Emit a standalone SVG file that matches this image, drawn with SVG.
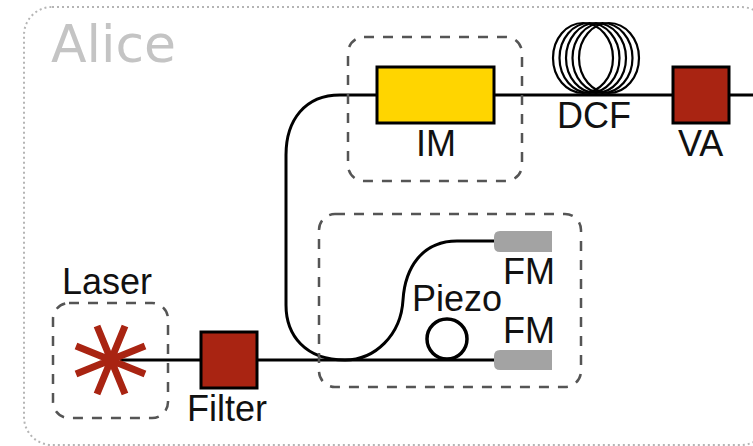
<svg xmlns="http://www.w3.org/2000/svg" width="753" height="446" viewBox="0 0 753 446">
<style>
text{font-family:"Liberation Sans",Arial,sans-serif;font-size:36px;fill:#111}
.fiber{fill:none;stroke:#000;stroke-width:3}
.box{fill:none;stroke:#555;stroke-width:2.5;stroke-dasharray:10 9}
.red{fill:#a92412;stroke:#000;stroke-width:3}
.fm{fill:#a3a3a3}
.coil{fill:none;stroke:#000;stroke-width:2.2}
.ray{stroke:#a92412;stroke-width:7}
</style>
<rect width="753" height="446" fill="#fff"/>
<g id="alice">
<rect x="24" y="7" width="745" height="438" rx="28" fill="none" stroke="#b5b5b5" stroke-width="2" stroke-dasharray="2 3"/>
<text x="51" y="62" style="font-family:'DejaVu Sans',sans-serif;font-size:52px;fill:#c4c4c4">Alice</text>
</g>
<g id="connectors">
<path class="fiber" d="M120 360H495"/>
<path class="fiber" d="M495 241H457C422 241 405 268 403 300C401 335 375 360 345 360C305 360 286 335 286 305V155C286 120 305 95 340 95H753"/>
</g>
<g id="laser">
<rect class="box" x="53" y="303" width="115" height="115" rx="16"/>
<path class="ray" d="M97 326L125 394M125 326L97 394M76 346L145 374M145 346L76 374"/>
<text x="62" y="294">Laser</text>
</g>
<g id="filter">
<rect class="red" x="201" y="332" width="56" height="56"/>
<text x="187" y="421">Filter</text>
</g>
<g id="interferometer">
<rect class="box" x="319" y="214" width="262" height="173" rx="16"/>
<circle cx="447" cy="339" r="20" fill="none" stroke="#000" stroke-width="3.5"/>
<text x="412" y="311">Piezo</text>
</g>
<g id="fm1">
<path class="fm" d="M500 231H552V252H500Q494 252 494 246V237Q494 231 500 231Z"/>
<text x="503" y="284">FM</text>
</g>
<g id="fm2">
<path class="fm" d="M500 350H552V370H500Q494 370 494 364V356Q494 350 500 350Z"/>
<text x="503" y="343">FM</text>
</g>
<g id="im-box">
<rect class="box" x="348" y="37" width="174" height="144" rx="16"/>
</g>
<g id="im">
<rect x="377" y="67" width="117" height="56" fill="#ffd500" stroke="#000" stroke-width="3"/>
<text x="416" y="156">IM</text>
</g>
<g id="dcf">
<ellipse class="coil" cx="583" cy="58" rx="30" ry="35"/>
<ellipse class="coil" cx="589.5" cy="58" rx="30" ry="35"/>
<ellipse class="coil" cx="596" cy="58" rx="30" ry="35"/>
<ellipse class="coil" cx="602.5" cy="58" rx="30" ry="35"/>
<ellipse class="coil" cx="609" cy="58" rx="30" ry="35"/>
<text x="557" y="128">DCF</text>
</g>
<g id="va">
<rect class="red" x="673" y="67" width="56" height="56"/>
<text x="678" y="156">VA</text>
</g>
</svg>
